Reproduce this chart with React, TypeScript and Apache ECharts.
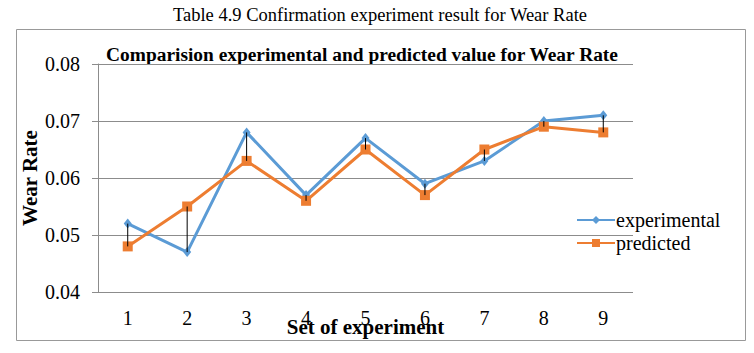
import React, { useEffect, useRef } from "react";
import * as echarts from "echarts";

const categories = ["1", "2", "3", "4", "5", "6", "7", "8", "9"];
const experimental = [0.052, 0.047, 0.068, 0.057, 0.067, 0.059, 0.063, 0.07, 0.071];
const predicted = [0.048, 0.055, 0.063, 0.056, 0.065, 0.057, 0.065, 0.069, 0.068];
const caption = "Table 4.9 Confirmation experiment result for Wear Rate";
const chartTitle = "Comparision experimental and predicted value for Wear Rate";

const FONT = "'Liberation Serif', 'Times New Roman', serif";

export default function App() {
  const ref = useRef<HTMLDivElement>(null);
  useEffect(() => {
    if (!ref.current) return;
    const chart = echarts.init(ref.current, null, { renderer: "svg" });
    const hiLo = categories.map((_, i) => [i, experimental[i], predicted[i]]);
    chart.setOption({
      animation: false,
      backgroundColor: "#ffffff",
      textStyle: { fontFamily: FONT },
      graphic: [
        {
          type: "rect",
          shape: { x: 16.5, y: 29.5, width: 729, height: 311 },
          style: { fill: "none", stroke: "#999999", lineWidth: 1 },
          silent: true,
        },
        {
          type: "text",
          x: 380,
          y: 15,
          style: {
            text: caption,
            fontFamily: FONT,
            fontSize: 18.5,
            fill: "#000",
            align: "center",
            verticalAlign: "middle",
          },
        },
        {
          type: "text",
          x: 362,
          y: 54,
          style: {
            text: chartTitle,
            fontFamily: FONT,
            fontSize: 19.4,
            fontWeight: "bold",
            fill: "#000",
            align: "center",
            verticalAlign: "middle",
          },
        },
      ],
      legend: {
        data: ["experimental", "predicted"],
        orient: "vertical",
        left: 571,
        top: 205,
        itemWidth: 38,
        itemHeight: 10,
        itemGap: 3,
        textStyle: { fontFamily: FONT, fontSize: 20, color: "#000", padding: [0, 0, 0, -4] },
      },
      grid: { left: 98, right: 121, top: 64, bottom: 61 },
      xAxis: {
        type: "category",
        data: categories,
        boundaryGap: true,
        name: "Set of experiment",
        nameLocation: "middle",
        nameGap: 24,
        nameMoveOverlap: false,
        nameTextStyle: { fontFamily: FONT, fontSize: 21, fontWeight: "bold", color: "#000", verticalAlign: "top" },
        axisLine: { show: false },
        axisTick: { show: false },
        axisLabel: { fontFamily: FONT, fontSize: 20, color: "#000", margin: 16 },
      },
      yAxis: {
        type: "value",
        min: 0.04,
        max: 0.08,
        interval: 0.01,
        name: "Wear Rate",
        nameLocation: "middle",
        nameGap: 58,
        nameMoveOverlap: false,
        nameTextStyle: { fontFamily: FONT, fontSize: 21, fontWeight: "bold", color: "#000" },
        axisLine: { show: true, lineStyle: { color: "#8c8c8c", width: 1 } },
        axisTick: { show: true, length: 6, lineStyle: { color: "#8c8c8c" } },
        axisLabel: {
          fontFamily: FONT,
          fontSize: 20,
          color: "#000",
          margin: 18,
          formatter: (v: number) => v.toFixed(2),
        },
        splitLine: { show: true, lineStyle: { color: "#8c8c8c", width: 1 } },
      },
      series: [
        {
          name: "experimental",
          type: "line",
          data: experimental,
          symbol: "diamond",
          symbolSize: [8, 10],
          lineStyle: { color: "#5B9BD5", width: 3 },
          itemStyle: { color: "#5B9BD5" },
          z: 3,
        },
        {
          name: "predicted",
          type: "line",
          data: predicted,
          symbol: "rect",
          symbolSize: 10,
          lineStyle: { color: "#ED7D31", width: 3 },
          itemStyle: { color: "#ED7D31" },
          z: 4,
        },
        {
          name: "hilo",
          type: "custom",
          data: hiLo,
          z: 5,
          renderItem: (params: any, api: any) => {
            const i = api.value(0);
            const p1 = api.coord([i, api.value(1)]);
            const p2 = api.coord([i, api.value(2)]);
            return {
              type: "line",
              shape: { x1: p1[0], y1: p1[1], x2: p2[0], y2: p2[1] },
              style: { stroke: "#000", lineWidth: 1 },
            };
          },
        },
      ],
    });
    return () => chart.dispose();
  }, []);
  return (
    <div
      ref={ref}
      style={{ position: "fixed", left: 0, top: 0, width: 754, height: 353, background: "#fff" }}
    />
  );
}
